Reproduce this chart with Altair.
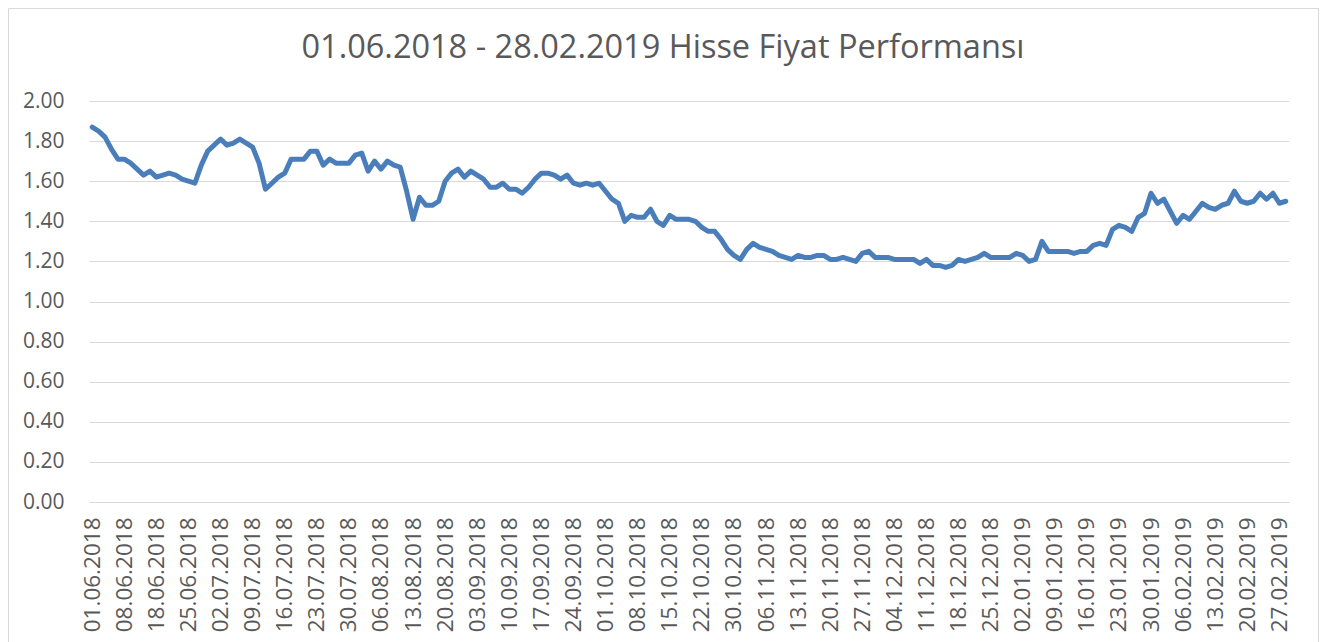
import altair as alt
import pandas as pd

# Closing prices, one per trading day (01.06.2018 - 28.02.2019)
prices = [
    1.87, 1.85, 1.82, 1.76, 1.71, 1.71, 1.69, 1.66, 1.63, 1.65,
    1.62, 1.63, 1.64, 1.63, 1.61, 1.60, 1.59, 1.68, 1.75, 1.78,
    1.81, 1.78, 1.79, 1.81, 1.79, 1.77, 1.69, 1.56, 1.59, 1.62,
    1.64, 1.71, 1.71, 1.71, 1.75, 1.75, 1.68, 1.71, 1.69, 1.69,
    1.69, 1.73, 1.74, 1.65, 1.70, 1.66, 1.70, 1.68, 1.67, 1.55,
    1.41, 1.52, 1.48, 1.48, 1.50, 1.60, 1.64, 1.66, 1.62, 1.65,
    1.63, 1.61, 1.57, 1.57, 1.59, 1.56, 1.56, 1.54, 1.57, 1.61,
    1.64, 1.64, 1.63, 1.61, 1.63, 1.59, 1.58, 1.59, 1.58, 1.59,
    1.55, 1.51, 1.49, 1.40, 1.43, 1.42, 1.42, 1.46, 1.40, 1.38,
    1.43, 1.41, 1.41, 1.41, 1.40, 1.37, 1.35, 1.35, 1.31, 1.26,
    1.23, 1.21, 1.26, 1.29, 1.27, 1.26, 1.25, 1.23, 1.22, 1.21,
    1.23, 1.22, 1.22, 1.23, 1.23, 1.21, 1.21, 1.22, 1.21, 1.20,
    1.24, 1.25, 1.22, 1.22, 1.22, 1.21, 1.21, 1.21, 1.21, 1.19,
    1.21, 1.18, 1.18, 1.17, 1.18, 1.21, 1.20, 1.21, 1.22, 1.24,
    1.22, 1.22, 1.22, 1.22, 1.24, 1.23, 1.20, 1.21, 1.30, 1.25,
    1.25, 1.25, 1.25, 1.24, 1.25, 1.25, 1.28, 1.29, 1.28, 1.36,
    1.38, 1.37, 1.35, 1.42, 1.44, 1.54, 1.49, 1.51, 1.45, 1.39,
    1.43, 1.41, 1.45, 1.49, 1.47, 1.46, 1.48, 1.49, 1.55, 1.50,
    1.49, 1.50, 1.54, 1.51, 1.54, 1.49, 1.50,
]

# Category labels shown on the x axis (every 5th trading day)
tick_labels = [
    "01.06.2018", "08.06.2018", "18.06.2018", "25.06.2018", "02.07.2018",
    "09.07.2018", "16.07.2018", "23.07.2018", "30.07.2018", "06.08.2018",
    "13.08.2018", "20.08.2018", "03.09.2018", "10.09.2018", "17.09.2018",
    "24.09.2018", "01.10.2018", "08.10.2018", "15.10.2018", "22.10.2018",
    "30.10.2018", "06.11.2018", "13.11.2018", "20.11.2018", "27.11.2018",
    "04.12.2018", "11.12.2018", "18.12.2018", "25.12.2018", "02.01.2019",
    "09.01.2019", "16.01.2019", "23.01.2019", "30.01.2019", "06.02.2019",
    "13.02.2019", "20.02.2019", "27.02.2019",
]
label_step = 5

y_ticks = [0.0, 0.2, 0.4, 0.6, 0.8, 1.0, 1.2, 1.4, 1.6, 1.8, 2.0]

title_text = "01.06.2018 - 28.02.2019 Hisse Fiyat Performansı"

df = pd.DataFrame({"i": list(range(len(prices))), "price": prices})
labels_js = "[" + ",".join("'" + t + "'" for t in tick_labels) + "]"
tick_values = [k * label_step for k in range(len(tick_labels))]

W, H = 1200, 401
PAD = {"left": 81, "top": 93, "right": 30, "bottom": 140}
GRID = "#d9d9d9"
TEXT = "#595959"
FONT = "Open Sans"

line = alt.Chart(df).mark_line(
    color="#4A7EBB", strokeWidth=5, strokeJoin="round", strokeCap="round"
).encode(
    x=alt.X(
        "i:Q",
        scale=alt.Scale(domain=[-0.5, len(prices) - 0.5], nice=False, zero=False),
        axis=alt.Axis(
            values=tick_values,
            labelExpr=labels_js + "[round(datum.value/" + str(label_step) + ")]",
            labelAngle=-90,
            grid=False,
            ticks=False,
            domainColor=GRID,
            domainWidth=1,
            labelPadding=15,
            labelFontSize=22.5,
            labelColor=TEXT,
            labelFont=FONT,
            labelOverlap=False,
            title=None,
        ),
    ),
    y=alt.Y(
        "price:Q",
        scale=alt.Scale(domain=[0, 2], nice=False, zero=True),
        axis=alt.Axis(
            values=y_ticks,
            format=".2f",
            domain=False,
            ticks=False,
            gridColor=GRID,
            gridWidth=1,
            labelPadding=25,
            labelFontSize=21,
            labelColor=TEXT,
            labelFont=FONT,
            title=None,
        ),
    ),
)

border = alt.Chart(pd.DataFrame({"b": [0]})).mark_rect(
    fill="transparent", stroke=GRID, strokeWidth=1
).encode(
    x=alt.value(-80.5),
    x2=alt.value(W + PAD["right"] - 0.5),
    y=alt.value(-PAD["top"] + 0.5),
    y2=alt.value(H + PAD["bottom"] + 10),
)

chart = alt.layer(border, line).properties(
    width=W,
    height=H,
    padding=PAD,
    autosize=alt.AutoSizeParams(type="none"),
    title=alt.TitleParams(
        text=title_text,
        font=FONT,
        fontSize=32.5,
        fontWeight="normal",
        color=TEXT,
        anchor="middle",
        dx=-26,
        offset=-56,
    ),
).configure_view(strokeWidth=0)

chart.save("out.html", embed_options={"renderer": "svg", "actions": False})
